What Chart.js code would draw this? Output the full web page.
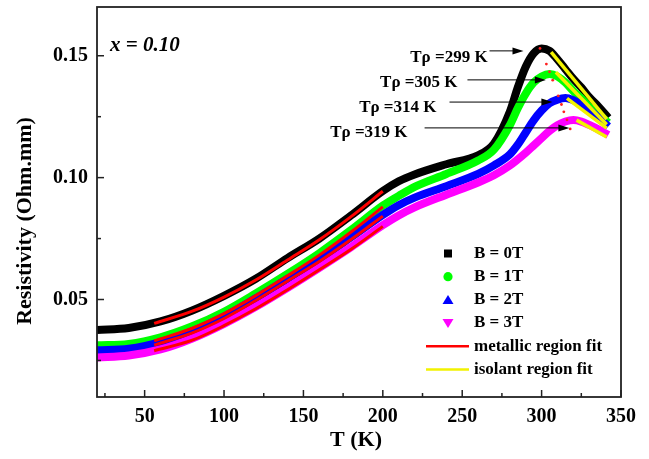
<!DOCTYPE html>
<html>
<head>
<meta charset="utf-8">
<script src="https://cdn.jsdelivr.net/npm/chart.js@4.4.1/dist/chart.umd.min.js"></script>
<style>
  html, body { margin: 0; padding: 0; background: #fff; }
  #wrap { width: 649px; height: 459px; }
</style>
</head>
<body>
<div id="wrap"><canvas id="chart" width="649" height="459"></canvas></div>
<script>
// temperature (K) and resistivity (Ohm.mm)
const temps = [20, 40, 60, 80, 100, 120, 140, 160, 180, 200, 210, 220, 240, 260, 270, 280, 285, 290, 295, 300, 305, 310, 315, 320, 325, 330, 336, 342];
const rhoB0 = [0.0375, 0.0383, 0.0410, 0.0455, 0.0515, 0.0585, 0.0670, 0.0750, 0.0845, 0.0945, 0.0985, 0.1013, 0.1055, 0.1092, 0.1140, 0.1270, 0.1370, 0.1455, 0.1510, 0.1530, 0.1520, 0.1485, 0.1445, 0.1405, 0.1370, 0.1330, 0.1290, 0.1245];
const rhoB1 = [0.0312, 0.0318, 0.0345, 0.0390, 0.0450, 0.0525, 0.0605, 0.0690, 0.0785, 0.0885, 0.0925, 0.0962, 0.1015, 0.1070, 0.1115, 0.1215, 0.1285, 0.1345, 0.1390, 0.1415, 0.1425, 0.1415, 0.1390, 0.1355, 0.1325, 0.1290, 0.1260, 0.1225];
const rhoB2 = [0.0292, 0.0298, 0.0325, 0.0370, 0.0430, 0.0505, 0.0585, 0.0665, 0.0755, 0.0847, 0.0887, 0.0918, 0.0965, 0.1015, 0.1050, 0.1095, 0.1135, 0.1185, 0.1235, 0.1275, 0.1305, 0.1320, 0.1327, 0.1318, 0.1300, 0.1278, 0.1245, 0.1210];
const rhoB3 = [0.0262, 0.0270, 0.0295, 0.0340, 0.0400, 0.0470, 0.0548, 0.0630, 0.0715, 0.0805, 0.0845, 0.0878, 0.0930, 0.0980, 0.1010, 0.1050, 0.1075, 0.1102, 0.1132, 0.1162, 0.1192, 0.1215, 0.1230, 0.1236, 0.1230, 0.1216, 0.1197, 0.1175];

// metallic region fits (red)
const fitT = [56, 80, 100, 120, 140, 160, 180, 200];
const fitB0 = [0.0402, 0.0452, 0.0510, 0.0580, 0.0662, 0.0745, 0.0840, 0.0944];
const fitB1 = [0.0330, 0.0382, 0.0442, 0.0516, 0.0597, 0.0682, 0.0777, 0.0880];
const fitB2 = [0.0313, 0.0363, 0.0422, 0.0496, 0.0576, 0.0656, 0.0746, 0.0842];
const fitB3 = [0.0290, 0.0333, 0.0393, 0.0462, 0.0540, 0.0622, 0.0706, 0.0800];

// isolant region fits (yellow)
const isoT0 = [306, 341], isoB0 = [0.1515, 0.1240];
const isoT1 = [309, 341], isoB1 = [0.1432, 0.1218];
const isoT2 = [316, 341], isoB2 = [0.1325, 0.1203];
const isoT3 = [322, 341], isoB3 = [0.1236, 0.1167];

// small red dots tracing the peaks
const peakT = [299, 303, 305, 307, 310.5, 312.5, 314, 316, 318];
const peakRho = [0.1530, 0.1466, 0.1434, 0.1400, 0.1335, 0.1300, 0.1270, 0.1237, 0.1200];

const seriesNames = ['B = 0T', 'B = 1T', 'B = 2T', 'B = 3T'];
const fitNames = ['metallic region fit', 'isolant region fit'];
const tpLabels = ['T\u03C1 =299 K', 'T\u03C1 =305 K', 'T\u03C1 =314 K', 'T\u03C1 =319 K'];

const xTicks = [50, 100, 150, 200, 250, 300, 350];
const xMinor = [25, 75, 125, 175, 225, 275, 325];
const yTicks = [0.05, 0.10, 0.15];
const yMinor = [0.025, 0.075, 0.125];

const zip = (xs, ys) => xs.map((v, i) => ({ x: v, y: ys[i] }));

const FONT = 'Liberation Serif';
Chart.defaults.font.family = FONT;
Chart.defaults.color = '#000';

const colors = ['#000000', '#00ff00', '#0000ff', '#ff00ff'];
const mains = [rhoB0, rhoB1, rhoB2, rhoB3];
const fits = [fitB0, fitB1, fitB2, fitB3];
const isoT = [isoT0, isoT1, isoT2, isoT3];
const isoR = [isoB0, isoB1, isoB2, isoB3];

const datasets = [];
mains.forEach((r, i) => {
  datasets.push({
    label: seriesNames[i],
    data: zip(temps, r),
    borderColor: colors[i],
    backgroundColor: colors[i],
    borderWidth: 8,
    pointRadius: 0,
    cubicInterpolationMode: 'monotone',
    order: 20 - i
  });
});
fits.forEach((r) => {
  datasets.push({
    label: fitNames[0],
    data: zip(fitT, r),
    borderColor: '#ff0000',
    borderWidth: 3,
    pointRadius: 0,
    cubicInterpolationMode: 'monotone',
    order: 5
  });
});
isoR.forEach((r, i) => {
  datasets.push({
    label: fitNames[1],
    data: zip(isoT[i], r),
    borderColor: '#f2f200',
    borderWidth: 3.5,
    pointRadius: 0,
    order: 4
  });
});
datasets.push({
  label: 'peaks',
  data: zip(peakT, peakRho),
  showLine: false,
  pointRadius: 1.4,
  pointBackgroundColor: '#ff2020',
  pointBorderWidth: 0,
  order: 3
});

// annotation layout (data coordinates)
const notes = [
  { textT: 266, textY: 0.1491, fromT: 267.2, toT: 288.6, arrowY: 0.1520 },
  { textT: 247, textY: 0.1388, fromT: 253.3, toT: 302.7, arrowY: 0.1401 },
  { textT: 233.8, textY: 0.1286, fromT: 242, toT: 306.8, arrowY: 0.1310 },
  { textT: 215.6, textY: 0.1183, fromT: 226.3, toT: 317.5, arrowY: 0.1204 }
];

const decorations = {
  id: 'decorations',
  afterDraw(chart) {
    const { ctx, chartArea: a, scales: { x, y } } = chart;
    ctx.save();
    ctx.strokeStyle = '#222';
    ctx.lineWidth = 1.8;
    ctx.strokeRect(a.left, a.top, a.right - a.left, a.bottom - a.top);

    const seg = (x1, y1, x2, y2) => { ctx.beginPath(); ctx.moveTo(x1, y1); ctx.lineTo(x2, y2); ctx.stroke(); };
    ctx.lineWidth = 1.5;
    xTicks.forEach(v => { const p = x.getPixelForValue(v); seg(p, a.bottom, p, a.bottom - 7); });
    xMinor.forEach(v => { const p = x.getPixelForValue(v); seg(p, a.bottom, p, a.bottom - 4); });
    yTicks.forEach(v => { const p = y.getPixelForValue(v); seg(a.left, p, a.left + 7, p); });
    yMinor.forEach(v => { const p = y.getPixelForValue(v); seg(a.left, p, a.left + 4, p); });

    // axis titles
    ctx.fillStyle = '#000';
    ctx.font = 'bold 22px "' + FONT + '"';
    ctx.textAlign = 'center';
    ctx.textBaseline = 'middle';
    ctx.fillText('T (K)', 356, 440);
    ctx.save();
    ctx.translate(25, 221);
    ctx.rotate(-Math.PI / 2);
    ctx.fillText('Resistivity (Ohm.mm)', 0, 0);
    ctx.restore();

    // composition label
    ctx.font = 'italic bold 21px "' + FONT + '"';
    ctx.textAlign = 'left';
    ctx.fillText('x = 0.10', x.getPixelForValue(28.2), y.getPixelForValue(0.154));

    // Tp annotations with arrows
    ctx.font = 'bold 17px "' + FONT + '"';
    ctx.textAlign = 'right';
    ctx.strokeStyle = '#000';
    ctx.lineWidth = 1;
    notes.forEach((n, i) => {
      ctx.fillText(tpLabels[i], x.getPixelForValue(n.textT), y.getPixelForValue(n.textY));
      const x1 = x.getPixelForValue(n.fromT), x2 = x.getPixelForValue(n.toT), py = y.getPixelForValue(n.arrowY);
      seg(x1, py, x2 - 8, py);
      ctx.beginPath();
      ctx.moveTo(x2, py);
      ctx.lineTo(x2 - 11, py - 3.5);
      ctx.lineTo(x2 - 11, py + 3.5);
      ctx.closePath();
      ctx.fill();
    });

    // legend
    const lx = 448, l1 = 426, l2 = 469, tx = 474, y0 = 253.5, dy = 23.2;
    ctx.font = 'bold 17px "' + FONT + '"';
    ctx.textAlign = 'left';
    const labels = seriesNames.concat(fitNames);
    labels.forEach((t, i) => {
      const cy = y0 + i * dy;
      if (i === 0) { ctx.fillStyle = colors[0]; ctx.fillRect(lx - 4, cy - 4, 8, 8); }
      if (i === 1) { ctx.fillStyle = colors[1]; ctx.beginPath(); ctx.arc(lx, cy, 4.6, 0, Math.PI * 2); ctx.fill(); }
      if (i === 2) { ctx.fillStyle = colors[2]; ctx.beginPath(); ctx.moveTo(lx, cy - 5); ctx.lineTo(lx + 5.5, cy + 4); ctx.lineTo(lx - 5.5, cy + 4); ctx.closePath(); ctx.fill(); }
      if (i === 3) { ctx.fillStyle = colors[3]; ctx.beginPath(); ctx.moveTo(lx, cy + 5); ctx.lineTo(lx + 5.5, cy - 4); ctx.lineTo(lx - 5.5, cy - 4); ctx.closePath(); ctx.fill(); }
      if (i === 4) { ctx.strokeStyle = '#ff0000'; ctx.lineWidth = 2.5; seg(l1, cy, l2, cy); }
      if (i === 5) { ctx.strokeStyle = '#f2f200'; ctx.lineWidth = 2.5; seg(l1, cy, l2, cy); }
      ctx.fillStyle = '#000';
      ctx.fillText(t, tx, cy);
    });
    ctx.restore();
  }
};

new Chart(document.getElementById('chart'), {
  type: 'line',
  data: { datasets },
  options: {
    responsive: false,
    devicePixelRatio: 1,
    animation: false,
    layout: { padding: { top: 7, right: 28, left: 0, bottom: 0 } },
    plugins: { legend: { display: false }, tooltip: { enabled: false } },
    scales: {
      x: {
        type: 'linear',
        min: 20,
        max: 350,
        grid: { display: false, drawTicks: false },
        border: { display: false },
        afterBuildTicks: s => { s.ticks = xTicks.map(v => ({ value: v })); },
        afterFit: s => { s.height = 62; s.paddingLeft = 0; s.paddingRight = 0; },
        ticks: { padding: 8, font: { size: 20, weight: 'bold' }, callback: v => String(v) }
      },
      y: {
        min: 0.01,
        max: 0.17,
        grid: { display: false, drawTicks: false },
        border: { display: false },
        afterBuildTicks: s => { s.ticks = yTicks.map(v => ({ value: v })); },
        afterFit: s => { s.width = 97; s.paddingTop = 0; s.paddingBottom = 0; },
        ticks: { padding: 9, font: { size: 20, weight: 'bold' }, callback: v => v.toFixed(2) }
      }
    }
  },
  plugins: [decorations]
});
</script>
</body>
</html>
